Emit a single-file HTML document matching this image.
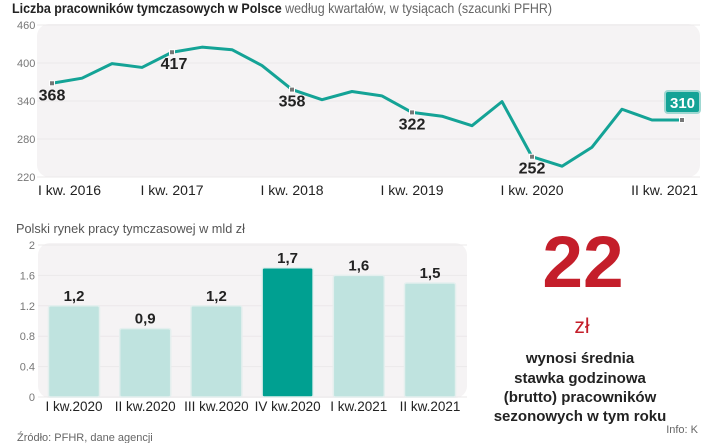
<!DOCTYPE html>
<html><head><meta charset="utf-8"><style>
body{margin:0;background:#fff;}
svg{display:block;font-family:"Liberation Sans Narrow","Liberation Sans",sans-serif;}
</style></head><body>
<svg id="c" width="720" height="443" viewBox="0 0 720 443">
<text x="12" y="13" font-size="14" fill="#222" textLength="540" lengthAdjust="spacingAndGlyphs"><tspan font-weight="bold">Liczba pracowników tymczasowych w Polsce</tspan><tspan fill="#666"> według kwartałów, w tysiącach (szacunki PFHR)</tspan></text>
<rect x="37" y="24" width="663" height="153" rx="12" fill="#f5f3f4"/>
<g id="line"></g>
<text x="16" y="233" font-size="13" fill="#555" textLength="229" lengthAdjust="spacingAndGlyphs">Polski rynek pracy tymczasowej w mld zł</text>
<rect x="38" y="243" width="429" height="155" rx="12" fill="#f5f3f4"/>
<g id="bars"></g>
<text x="583" y="287" font-size="73" font-weight="bold" fill="#c41e2a" text-anchor="middle" font-family="Liberation Sans, sans-serif">22</text>
<text x="582" y="333" font-size="21" fill="#c41e2a" text-anchor="middle">zł</text>
<g font-size="15" font-weight="bold" fill="#222" text-anchor="middle">
<text x="580" y="363">wynosi średnia</text>
<text x="580" y="383">stawka godzinowa</text>
<text x="580" y="402">(brutto) pracowników</text>
<text x="580" y="421">sezonowych w tym roku</text>
</g>
<text x="17" y="441" font-size="11" fill="#666">Źródło: PFHR, dane agencji</text>
<text x="698" y="433" font-size="11" fill="#666" text-anchor="end">Info: K</text>
</svg>
<script>
const lineValues=[368,376,399,393,417,425,421,396,358,342,355,348,322,316,301,339,252,237,267,327,310,310];
const lineTickLabels=["I kw. 2016","I kw. 2017","I kw. 2018","I kw. 2019","I kw. 2020","II kw. 2021"];
const lineTickIndex=[0,4,8,12,16,21];
const yTicks=[220,280,340,400,460];
const labelIndex=[0,4,8,12,16];
const barCats=["I kw.2020","II kw.2020","III kw.2020","IV kw.2020","I kw.2021","II kw.2021"];
const barValues=[1.2,0.9,1.2,1.7,1.6,1.5];
const barLabels=["1,2","0,9","1,2","1,7","1,6","1,5"];
const barTicks=[0,0.4,0.8,1.2,1.6,2];
const barTickLabels=["0","0.4","0.8","1.2","1.6","2"];

const NS="http://www.w3.org/2000/svg";
function mk(t,a,p,txt){const e=document.createElementNS(NS,t);for(const k in a)e.setAttribute(k,a[k]);if(txt!==undefined)e.textContent=txt;p.appendChild(e);return e;}
const lx=i=>52+i*(682-52)/(lineValues.length-1);
const ly=v=>177-(v-220)*(152/240);
const L=document.getElementById('line');
yTicks.forEach(t=>{
  const e=mk('line',{x1:37,x2:700,y1:ly(t),y2:ly(t),stroke:'#ebe8ea','stroke-width':1},L);
  
  
  const s=mk('text',{x:17,y:ly(t)+4,'font-size':11,fill:'#777'},L,String(t));
  
  
});
lineTickIndex.forEach((i,k)=>{
  let anchor='middle',x=lx(i);
  if(k===0){anchor='start';x=38;}
  if(k===lineTickIndex.length-1){anchor='end';x=698;}
  const e=mk('text',{x:x,y:195,'font-size':14,fill:'#222','text-anchor':anchor},L,lineTickLabels[k]);
  
  
});
const pl=mk('polyline',{points:lineValues.map((v,i)=>lx(i)+','+ly(v)).join(' '),fill:'none',stroke:'#14a396','stroke-width':3,'stroke-linejoin':'round'},L);


labelIndex.concat([lineValues.length-1]).forEach(i=>{
  const m=mk('rect',{x:lx(i)-2.5,y:ly(lineValues[i])-2.5,width:5,height:5,fill:'#777',stroke:'#fff','stroke-width':1},L);
  
  
});
labelIndex.forEach(i=>{
  const off=i===4?2:0;
  const e=mk('text',{x:lx(i)+off,y:ly(lineValues[i])+17,'font-size':16,'font-weight':'bold',fill:'#222','text-anchor':'middle'},L,String(lineValues[i]));
  
  
});
const li=lineValues.length-1;
const bx=mk('rect',{x:665,y:ly(lineValues[li])-29,width:35,height:22,rx:3,fill:'#14a396',stroke:'#9fd8d2','stroke-width':2},L);


const bt=mk('text',{x:682.5,y:ly(lineValues[li])-12,'font-size':15,'font-weight':'bold',fill:'#fff','text-anchor':'middle'},L,String(lineValues[li]));



const B=document.getElementById('bars');
const by=v=>397-v*76;
const bxc=i=>74+i*71.2;
barTicks.forEach((t,k)=>{
  const g=mk('line',{x1:38,x2:467,y1:by(t),y2:by(t),stroke:'#ebe8ea','stroke-width':1},B);
  
  
  const e=mk('text',{x:35,y:by(t)+4,'font-size':11,fill:'#777','text-anchor':'end'},B,barTickLabels[k]);
  
  
});
barValues.forEach((v,i)=>{
  const r=mk('rect',{x:bxc(i)-25.5,y:by(v),width:51,height:397-by(v),rx:2,fill:i===3?'#00a091':'#bfe3df',stroke:'#e4efee','stroke-width':1.5},B);
  
  
  const t=mk('text',{x:bxc(i),y:by(v)-5,'font-size':15,'font-weight':'bold',fill:'#222','text-anchor':'middle'},B,barLabels[i]);
  
  
  const c=mk('text',{x:bxc(i),y:411,'font-size':13.5,fill:'#222','text-anchor':'middle'},B,barCats[i]);
  
  
});
</script>
</body></html>
